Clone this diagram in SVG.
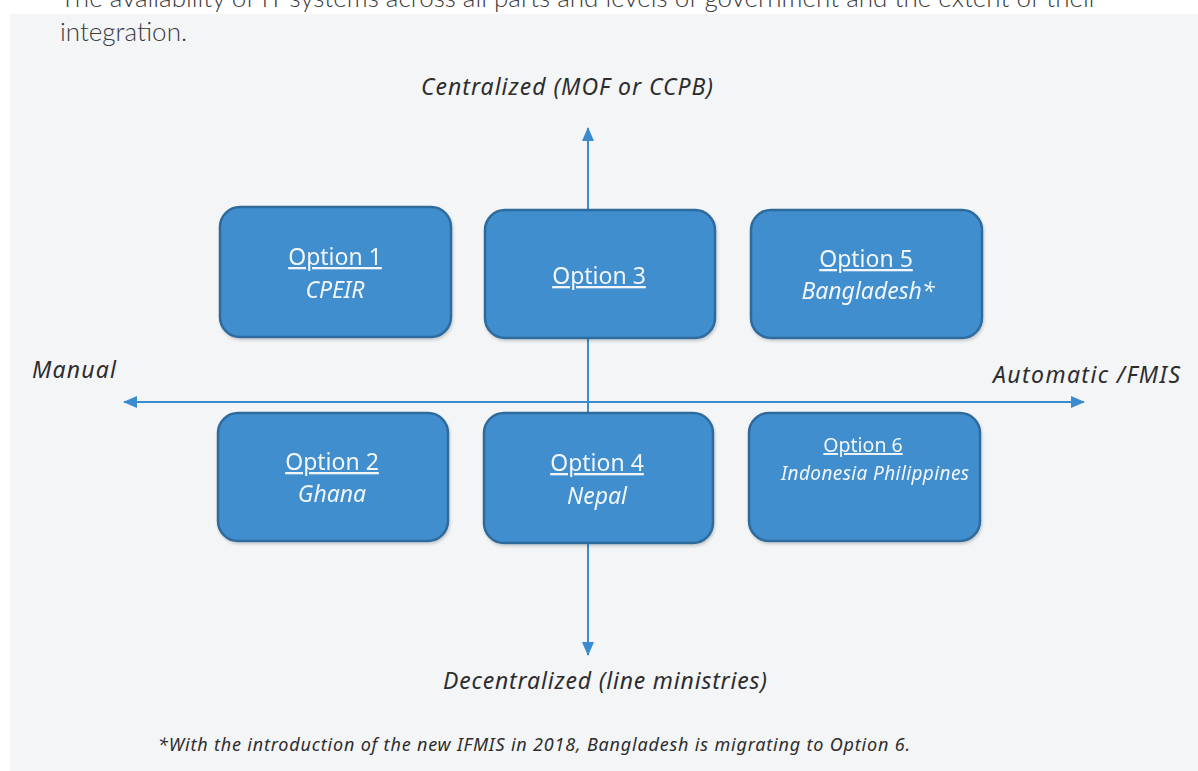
<svg xmlns="http://www.w3.org/2000/svg" width="1198" height="771" viewBox="0 0 1198 771">
  <style>
    .lead { font-family: Lato, "Open Sans", sans-serif; font-weight: 300; font-size: 26px; fill: #3a3a3a; }
    .axis-label { font-family: "Noto Sans", "Open Sans", sans-serif; font-style: italic; font-size: 23px; fill: #2d2d2d; }
    .foot { font-family: "Noto Sans", "Open Sans", sans-serif; font-style: italic; font-size: 18px; fill: #2d2d2d; }
    .box { fill: #3f8ecd; stroke: #2f6b9c; stroke-width: 2.5; }
    .title { font-family: "Noto Sans", "Open Sans", sans-serif; font-size: 23px; fill: #f2f6fb; text-anchor: middle; text-decoration: underline; }
    .sub { font-family: "Noto Sans", "Open Sans", sans-serif; font-style: italic; font-size: 23px; fill: #f2f6fb; text-anchor: middle; }
    .title-s { font-family: "Noto Sans", "Open Sans", sans-serif; font-size: 19.5px; fill: #f2f6fb; text-anchor: middle; text-decoration: underline; }
    .sub-s { font-family: "Noto Sans", "Open Sans", sans-serif; font-style: italic; font-size: 19px; fill: #f2f6fb; text-anchor: middle; }
    .axis { stroke: #3b8bd0; stroke-width: 2; fill: none; }
  </style>
  <defs>
    <marker id="arrow" viewBox="0 0 14 12" refX="13" refY="6" markerWidth="14" markerHeight="12" markerUnits="userSpaceOnUse" orient="auto">
      <path d="M0,0 L14,6 L0,12 Z" fill="#3b8bd0"/>
    </marker>
    <filter id="shadow" x="-10%" y="-10%" width="125%" height="130%">
      <feDropShadow dx="1" dy="2" stdDeviation="1.5" flood-color="#000" flood-opacity="0.18"/>
    </filter>
  </defs>

  <rect x="0" y="0" width="1198" height="771" fill="#ffffff"/>
  <rect x="10" y="14" width="1188" height="757" fill="#f4f5f7"/>

  <text class="lead" x="60" y="7" textLength="1038">The availability of IT systems across all parts and levels of government and the extent of their</text>
  <text class="lead" x="60" y="41">integration.</text>

  <g id="connectors">
    <line class="axis" x1="588" y1="402" x2="588" y2="128" marker-end="url(#arrow)"/>
    <line class="axis" x1="588" y1="402" x2="588" y2="655" marker-end="url(#arrow)"/>
    <line class="axis" x1="588" y1="402" x2="124" y2="402" marker-end="url(#arrow)"/>
    <line class="axis" x1="588" y1="402" x2="1084" y2="402" marker-end="url(#arrow)"/>
  </g>

  <text class="axis-label" x="421" y="95" textLength="292">Centralized (MOF or CCPB)</text>
  <text class="axis-label" x="32" y="378" textLength="84">Manual</text>
  <text class="axis-label" x="993" y="383" textLength="187">Automatic /FMIS</text>
  <text class="axis-label" x="443" y="689" textLength="324">Decentralized (line ministries)</text>

  <g id="option1" filter="url(#shadow)">
    <rect class="box" x="220" y="207" width="231" height="130" rx="20"/>
    <text class="title" x="335" y="265">Option 1</text>
    <text class="sub" x="335" y="298">CPEIR</text>
  </g>
  <g id="option3" filter="url(#shadow)">
    <rect class="box" x="485" y="210" width="230" height="128" rx="20"/>
    <text class="title" x="599" y="284">Option 3</text>
  </g>
  <g id="option5" filter="url(#shadow)">
    <rect class="box" x="751" y="210" width="231" height="128" rx="20"/>
    <text class="title" x="866" y="267">Option 5</text>
    <text class="sub" x="868" y="299">Bangladesh*</text>
  </g>
  <g id="option2" filter="url(#shadow)">
    <rect class="box" x="218" y="413" width="230" height="128" rx="20"/>
    <text class="title" x="332" y="470">Option 2</text>
    <text class="sub" x="332" y="502">Ghana</text>
  </g>
  <g id="option4" filter="url(#shadow)">
    <rect class="box" x="484" y="413" width="229" height="130" rx="20"/>
    <text class="title" x="597" y="471">Option 4</text>
    <text class="sub" x="597" y="504">Nepal</text>
  </g>
  <g id="option6" filter="url(#shadow)">
    <rect class="box" x="749" y="413" width="231" height="128" rx="20"/>
    <text class="title-s" x="863" y="452">Option 6</text>
    <text class="sub-s" x="875" y="480" textLength="188">Indonesia Philippines</text>
  </g>

  <text class="foot" x="158" y="751" textLength="752">*With the introduction of the new IFMIS in 2018, Bangladesh is migrating to Option 6.</text>
</svg>
